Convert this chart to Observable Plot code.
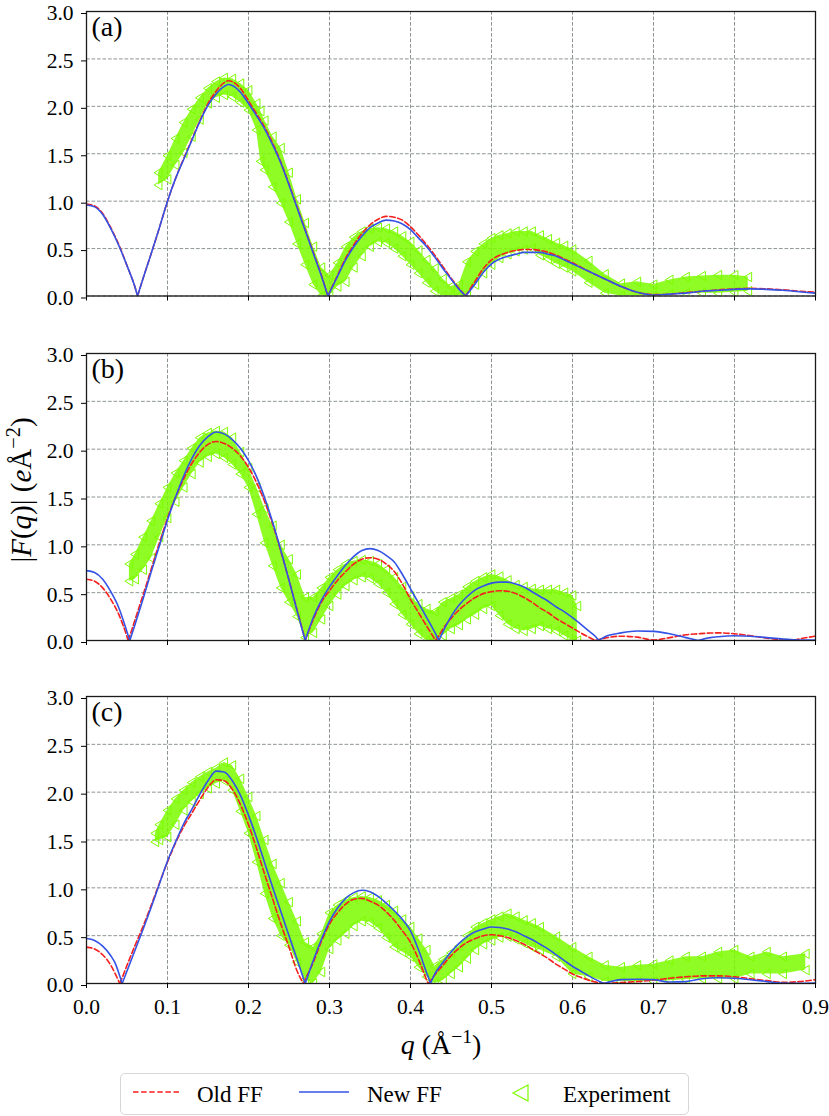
<!DOCTYPE html>
<html><head><meta charset="utf-8">
<script src="https://cdn.jsdelivr.net/npm/d3@7"></script>
<script src="https://cdn.jsdelivr.net/npm/@observablehq/plot@0.6"></script>
<style>
body{margin:0;background:#fff;font-family:"Liberation Serif",serif;color:#000;}
#wrap{position:relative;width:829px;height:1116px;overflow:hidden;}
.panel{position:absolute;left:0;}
.lbl{position:absolute;white-space:nowrap;line-height:1;}
.lbl sup{font-size:70%;vertical-align:0;position:relative;top:-0.55em;}
#legend{position:absolute;left:120px;top:1073px;width:569px;height:42px;box-sizing:border-box;border:1.5px solid #d6d6d6;border-radius:5px;background:#fff;}
#legend .it{position:absolute;font-size:23px;line-height:23px;top:9px;white-space:nowrap;}
#legend svg{position:absolute;}
</style></head><body><div id="wrap"></div>
<script>
// ---------- data ----------
const panelLabels = ["(a)", "(b)", "(c)"];
const legendLabels = ["Old FF", "New FF", "Experiment"];
const xTicks = [0, 0.1, 0.2, 0.3, 0.4, 0.5, 0.6, 0.7, 0.8, 0.9];
const yTicks = [0, 0.5, 1.0, 1.5, 2.0, 2.5, 3.0];

// Panel (a)
const qA = [0, 0.01, 0.02, 0.03, 0.04, 0.05, 0.06, 0.063, 0.07, 0.08,
  0.09, 0.10, 0.11, 0.12, 0.13, 0.14, 0.15, 0.16, 0.17, 0.175,
  0.18, 0.19, 0.20, 0.21, 0.22, 0.23, 0.24, 0.25, 0.26, 0.27,
  0.28, 0.29, 0.298, 0.31, 0.32, 0.33, 0.34, 0.35, 0.36, 0.37,
  0.38, 0.39, 0.40, 0.41, 0.42, 0.43, 0.44, 0.45, 0.46, 0.468,
  0.48, 0.49, 0.50, 0.51, 0.52, 0.53, 0.54, 0.55, 0.56, 0.57,
  0.58, 0.59, 0.60, 0.62, 0.64, 0.66, 0.68, 0.70, 0.72, 0.74,
  0.76, 0.78, 0.80, 0.82, 0.84, 0.86, 0.88, 0.90];
const oldA = [0.97, 0.95, 0.87, 0.72, 0.54, 0.32, 0.09, 0, 0.19, 0.45,
  0.72, 1.00, 1.24, 1.45, 1.65, 1.85, 2.03, 2.16, 2.25, 2.27,
  2.26, 2.19, 2.06, 1.92, 1.78, 1.61, 1.41, 1.18, 0.94, 0.70,
  0.46, 0.22, 0, 0.22, 0.40, 0.54, 0.66, 0.75, 0.81, 0.84,
  0.83, 0.80, 0.73, 0.64, 0.54, 0.43, 0.31, 0.19, 0.08, 0,
  0.16, 0.29, 0.38, 0.43, 0.46, 0.48, 0.49, 0.49, 0.48, 0.46,
  0.43, 0.39, 0.35, 0.26, 0.18, 0.10, 0.04, 0.015, 0.02, 0.035,
  0.05, 0.065, 0.075, 0.08, 0.075, 0.065, 0.05, 0.04];
const newA = [0.96, 0.94, 0.86, 0.71, 0.53, 0.32, 0.09, 0, 0.19, 0.45,
  0.72, 1.00, 1.24, 1.44, 1.64, 1.84, 2.01, 2.13, 2.21, 2.23,
  2.22, 2.15, 2.03, 1.90, 1.76, 1.59, 1.40, 1.17, 0.93, 0.69,
  0.45, 0.21, 0, 0.21, 0.38, 0.52, 0.63, 0.72, 0.77, 0.80,
  0.79, 0.76, 0.70, 0.61, 0.52, 0.41, 0.29, 0.18, 0.07, 0,
  0.13, 0.25, 0.34, 0.39, 0.42, 0.44, 0.46, 0.46, 0.46, 0.44,
  0.42, 0.38, 0.34, 0.26, 0.18, 0.10, 0.04, 0.01, 0.02, 0.03,
  0.05, 0.06, 0.07, 0.075, 0.07, 0.06, 0.045, 0.03];
const expQA = [0.089, 0.10, 0.11, 0.12, 0.13, 0.14, 0.15, 0.16, 0.17, 0.18,
  0.19, 0.20, 0.21, 0.215, 0.22, 0.23, 0.24, 0.25, 0.26, 0.27,
  0.28, 0.29, 0.30, 0.31, 0.32, 0.33, 0.34, 0.35, 0.36, 0.37,
  0.38, 0.39, 0.40, 0.41, 0.42, 0.43, 0.44, 0.45, 0.46, 0.47,
  0.48, 0.49, 0.50, 0.51, 0.52, 0.53, 0.54, 0.55, 0.56, 0.57,
  0.58, 0.59, 0.60, 0.62, 0.64, 0.66, 0.68, 0.70, 0.72, 0.74,
  0.76, 0.78, 0.80, 0.817];
const expLoA = [1.17, 1.23, 1.38, 1.51, 1.68, 1.86, 2.03, 2.09, 2.12, 2.10,
  2.04, 1.96, 1.75, 1.42, 1.33, 1.15, 0.98, 0.78, 0.55, 0.33,
  0.12, 0.0, 0.0, 0.10, 0.15, 0.30, 0.42, 0.52, 0.57, 0.56,
  0.50, 0.42, 0.33, 0.24, 0.14, 0.05, 0.0, 0.0, 0.0, 0.0,
  0.12, 0.24, 0.33, 0.40, 0.44, 0.47, 0.49, 0.50, 0.43, 0.39,
  0.34, 0.30, 0.26, 0.14, 0.03, 0.0, 0.0, 0.0, 0.02, 0.03,
  0.03, 0.03, 0.04, 0.05];
const expHiA = [1.30, 1.48, 1.66, 1.83, 1.97, 2.09, 2.19, 2.26, 2.30, 2.29,
  2.24, 2.17, 2.03, 1.95, 1.85, 1.68, 1.56, 1.30, 1.02, 0.77,
  0.52, 0.30, 0.22, 0.35, 0.52, 0.62, 0.68, 0.71, 0.72, 0.71,
  0.68, 0.63, 0.57, 0.48, 0.38, 0.29, 0.18, 0.10, 0.12, 0.36,
  0.47, 0.55, 0.61, 0.64, 0.66, 0.68, 0.68, 0.68, 0.64, 0.60,
  0.56, 0.53, 0.49, 0.37, 0.23, 0.13, 0.15, 0.12, 0.17, 0.20,
  0.21, 0.22, 0.22, 0.20];

// Panel (b)
const qB = [0, 0.01, 0.02, 0.03, 0.04, 0.05, 0.0515, 0.0535, 0.06, 0.07,
  0.08, 0.09, 0.10, 0.11, 0.12, 0.13, 0.14, 0.15, 0.16, 0.17,
  0.18, 0.19, 0.20, 0.21, 0.22, 0.23, 0.24, 0.25, 0.26, 0.27,
  0.28, 0.29, 0.30, 0.31, 0.32, 0.33, 0.34, 0.35, 0.36, 0.37,
  0.38, 0.39, 0.40, 0.41, 0.42, 0.431, 0.435, 0.44, 0.45, 0.46,
  0.47, 0.48, 0.49, 0.50, 0.51, 0.52, 0.53, 0.54, 0.55, 0.56,
  0.57, 0.58, 0.59, 0.60, 0.61, 0.62, 0.628, 0.6325, 0.64, 0.66,
  0.68, 0.70, 0.72, 0.74, 0.755, 0.77, 0.78, 0.80, 0.82, 0.84,
  0.86, 0.873, 0.88, 0.90];
const oldB = [0.64, 0.62, 0.55, 0.43, 0.27, 0.04, 0, 0.05, 0.22, 0.48,
  0.75, 1.02, 1.28, 1.50, 1.69, 1.85, 1.97, 2.05, 2.08, 2.06,
  2.01, 1.93, 1.81, 1.65, 1.45, 1.21, 0.93, 0.63, 0.32, 0,
  0.22, 0.40, 0.52, 0.63, 0.72, 0.80, 0.85, 0.865, 0.85, 0.80,
  0.72, 0.59, 0.43, 0.29, 0.15, 0, 0.05, 0.12, 0.23, 0.32,
  0.39, 0.45, 0.49, 0.51, 0.52, 0.515, 0.49, 0.45, 0.40, 0.34,
  0.29, 0.23, 0.18, 0.13, 0.08, 0.035, 0, 0.01, 0.025, 0.045,
  0.035, 0.005, 0.03, 0.06, 0.07, 0.078, 0.08, 0.07, 0.05, 0.025,
  0.005, 0, 0.015, 0.045];
const newB = [0.73, 0.71, 0.64, 0.51, 0.34, 0.09, 0.05, 0, 0.17, 0.44,
  0.72, 0.99, 1.26, 1.50, 1.72, 1.90, 2.04, 2.13, 2.18, 2.16,
  2.10, 2.01, 1.88, 1.71, 1.49, 1.23, 0.94, 0.63, 0.31, 0,
  0.24, 0.42, 0.56, 0.68, 0.79, 0.88, 0.94, 0.96, 0.94, 0.89,
  0.82, 0.69, 0.54, 0.39, 0.24, 0.07, 0, 0.09, 0.25, 0.37,
  0.46, 0.53, 0.57, 0.60, 0.61, 0.61, 0.59, 0.56, 0.51, 0.46,
  0.41, 0.35, 0.30, 0.24, 0.17, 0.10, 0.045, 0, 0.04, 0.08,
  0.10, 0.095, 0.07, 0.03, 0, 0.03, 0.04, 0.05, 0.045, 0.03,
  0.015, 0.008, 0.005, 0.005];
const expQB = [0.053, 0.06, 0.07, 0.08, 0.09, 0.10, 0.11, 0.12, 0.13, 0.14,
  0.15, 0.16, 0.17, 0.18, 0.19, 0.20, 0.21, 0.22, 0.23, 0.24,
  0.25, 0.26, 0.27, 0.28, 0.29, 0.30, 0.31, 0.32, 0.33, 0.34,
  0.35, 0.36, 0.37, 0.38, 0.39, 0.40, 0.41, 0.42, 0.43, 0.44,
  0.45, 0.46, 0.47, 0.48, 0.49, 0.50, 0.51, 0.52, 0.53, 0.54,
  0.55, 0.56, 0.57, 0.58, 0.59, 0.60, 0.606];
const expLoB = [0.62, 0.64, 0.74, 0.86, 1.08, 1.28, 1.45, 1.60, 1.74, 1.86,
  1.92, 1.95, 1.91, 1.84, 1.74, 1.60, 1.32, 1.02, 0.78, 0.55,
  0.40, 0.25, 0.03, 0.08, 0.22, 0.36, 0.48, 0.57, 0.63, 0.66,
  0.65, 0.59, 0.50, 0.38, 0.27, 0.17, 0.07, 0.0, 0.0, 0.05,
  0.12, 0.16, 0.22, 0.27, 0.33, 0.36, 0.26, 0.17, 0.12, 0.10,
  0.12, 0.15, 0.12, 0.10, 0.05, 0.0, 0.0];
const expHiB = [0.80, 0.90, 1.08, 1.25, 1.43, 1.60, 1.75, 1.88, 2.01, 2.12,
  2.17, 2.19, 2.18, 2.12, 1.97, 1.80, 1.60, 1.38, 1.20, 1.00,
  0.85, 0.69, 0.45, 0.45, 0.55, 0.66, 0.74, 0.80, 0.83, 0.84,
  0.83, 0.80, 0.74, 0.66, 0.56, 0.46, 0.38, 0.33, 0.30, 0.40,
  0.44, 0.48, 0.56, 0.62, 0.66, 0.69, 0.67, 0.63, 0.58, 0.56,
  0.54, 0.53, 0.53, 0.53, 0.50, 0.47, 0.36];

// Panel (c)
const qC = [0, 0.01, 0.02, 0.03, 0.035, 0.041, 0.044, 0.05, 0.06, 0.07,
  0.08, 0.09, 0.10, 0.11, 0.12, 0.13, 0.14, 0.15, 0.16, 0.17,
  0.18, 0.19, 0.20, 0.21, 0.22, 0.23, 0.24, 0.25, 0.26, 0.268,
  0.27, 0.28, 0.29, 0.30, 0.31, 0.32, 0.33, 0.34, 0.35, 0.36,
  0.37, 0.38, 0.39, 0.40, 0.41, 0.42, 0.4218, 0.4247, 0.43, 0.44,
  0.45, 0.46, 0.47, 0.48, 0.49, 0.50, 0.51, 0.52, 0.53, 0.54,
  0.55, 0.56, 0.57, 0.58, 0.59, 0.60, 0.61, 0.62, 0.63, 0.639,
  0.66, 0.68, 0.70, 0.72, 0.74, 0.76, 0.78, 0.80, 0.82, 0.84,
  0.86, 0.88, 0.90];
const oldC = [0.38, 0.36, 0.30, 0.19, 0.11, 0, 0.06, 0.19, 0.40, 0.60,
  0.82, 1.05, 1.27, 1.47, 1.64, 1.78, 1.92, 2.05, 2.13, 2.12,
  2.03, 1.87, 1.66, 1.41, 1.14, 0.88, 0.62, 0.38, 0.13, 0,
  0.04, 0.22, 0.44, 0.62, 0.74, 0.83, 0.88, 0.89, 0.86, 0.82,
  0.75, 0.66, 0.55, 0.43, 0.25, 0.035, 0, 0.03, 0.09, 0.19,
  0.29, 0.37, 0.43, 0.47, 0.50, 0.51, 0.50, 0.48, 0.45, 0.41,
  0.36, 0.31, 0.26, 0.20, 0.15, 0.10, 0.065, 0.035, 0.012, 0,
  0.01, 0.02, 0.035, 0.055, 0.07, 0.08, 0.08, 0.07, 0.05, 0.03,
  0.012, 0.02, 0.04];
const newC = [0.47, 0.45, 0.39, 0.29, 0.22, 0.08, 0, 0.13, 0.35, 0.57,
  0.80, 1.04, 1.28, 1.48, 1.67, 1.82, 1.98, 2.12, 2.22, 2.21,
  2.12, 1.97, 1.76, 1.52, 1.26, 1.00, 0.75, 0.50, 0.25, 0.05,
  0, 0.24, 0.46, 0.65, 0.79, 0.89, 0.95, 0.975, 0.96, 0.91,
  0.84, 0.76, 0.67, 0.55, 0.35, 0.11, 0.07, 0, 0.10, 0.22,
  0.33, 0.42, 0.49, 0.54, 0.57, 0.59, 0.585, 0.57, 0.54, 0.50,
  0.46, 0.41, 0.36, 0.30, 0.24, 0.18, 0.13, 0.08, 0.035, 0,
  0.04, 0.045, 0.04, 0.015, 0.02, 0.05, 0.06, 0.055, 0.04, 0.02,
  0.005, 0.003, 0.005];
const expQC = [0.085, 0.09, 0.10, 0.11, 0.12, 0.13, 0.14, 0.15, 0.16, 0.17,
  0.18, 0.19, 0.20, 0.21, 0.22, 0.23, 0.24, 0.25, 0.26, 0.27,
  0.28, 0.29, 0.30, 0.31, 0.32, 0.33, 0.34, 0.35, 0.36, 0.37,
  0.38, 0.39, 0.40, 0.41, 0.42, 0.43, 0.44, 0.45, 0.46, 0.47,
  0.48, 0.49, 0.50, 0.51, 0.52, 0.53, 0.54, 0.55, 0.56, 0.58,
  0.60, 0.62, 0.64, 0.66, 0.68, 0.70, 0.72, 0.74, 0.76, 0.78,
  0.80, 0.82, 0.84, 0.86, 0.888];
const expLoC = [1.48, 1.50, 1.53, 1.66, 1.81, 1.90, 1.98, 2.04, 2.09, 2.12,
  2.02, 1.80, 1.57, 1.27, 0.94, 0.68, 0.50, 0.40, 0.22, 0.04,
  0.0, 0.12, 0.36, 0.45, 0.52, 0.60, 0.65, 0.64, 0.58, 0.48,
  0.38, 0.33, 0.28, 0.17, 0.07, 0.0, 0.03, 0.10, 0.17, 0.26,
  0.35, 0.41, 0.45, 0.48, 0.49, 0.46, 0.42, 0.38, 0.35, 0.28,
  0.10, 0.07, 0.02, 0.02, 0.02, 0.02, 0.03, 0.04, 0.05, 0.05,
  0.05, 0.10, 0.10, 0.10, 0.14];
const expHiC = [1.57, 1.66, 1.81, 1.93, 2.02, 2.10, 2.16, 2.21, 2.25, 2.31,
  2.28, 2.14, 1.95, 1.75, 1.50, 1.25, 1.05, 0.85, 0.65, 0.43,
  0.38, 0.52, 0.74, 0.82, 0.87, 0.90, 0.91, 0.90, 0.87, 0.82,
  0.76, 0.67, 0.59, 0.47, 0.35, 0.18, 0.25, 0.32, 0.39, 0.50,
  0.59, 0.63, 0.67, 0.70, 0.73, 0.70, 0.66, 0.63, 0.59, 0.49,
  0.38, 0.28, 0.19, 0.17, 0.19, 0.20, 0.24, 0.28, 0.28, 0.33,
  0.35, 0.28, 0.33, 0.28, 0.31];

// ---------- styles / layout ----------
const RED = "#f5201e", BLUE = "#3453e6", GREEN = "#7cfc00", GRID = "#8e9494";
const frameTops = [10.5, 352.7, 696];
const innerHs = [284.5, 287, 287];
const leftTri = {
  draw(ctx, size) {
    const r = Math.sqrt(size / Math.PI);
    ctx.moveTo(-r, 0);
    ctx.lineTo(r * 0.75, -r * 1.05);
    ctx.lineTo(r * 0.75, r * 1.05);
    ctx.closePath();
  }
};

function segments(q, v) {
  const out = []; let s = 0;
  q.forEach((x, i) => {
    out.push({q: x, v: v[i], s});
    if (v[i] === 0 && i > 0 && i < q.length - 1) { s++; out.push({q: x, v: 0, s}); }
  });
  return out;
}

function makePanel(label, q, oldV, newV, eq, elo, ehi, showX, innerH) {
  const exp = eq.map((x, i) => ({q: x, lo: elo[i], hi: ehi[i]}));
  const mt = 16, mb = 45;
  return Plot.plot({
    width: 829, height: mt + innerH + mb,
    marginTop: mt, marginBottom: mb, marginLeft: 86, marginRight: 14,
    style: {background: "transparent", fontFamily: "Liberation Serif, serif", fontSize: "21.5px", color: "#000", overflow: "visible"},
    x: {domain: [0, 0.9]},
    y: {domain: [0, 3]},
    marks: [
      Plot.gridX(xTicks, {stroke: GRID, strokeOpacity: 1, strokeWidth: 1, strokeDasharray: "3.7,1.8"}),
      Plot.gridY(yTicks, {stroke: GRID, strokeOpacity: 1, strokeWidth: 1, strokeDasharray: "3.7,1.8"}),
      Plot.areaY(exp, {x: "q", y1: "lo", y2: "hi", fill: GREEN, fillOpacity: 0.85, clip: true}),
      Plot.dot(exp, {x: "q", y: "lo", symbol: leftTri, r: 4.5, stroke: GREEN, strokeWidth: 1, fill: "none", clip: true}),
      Plot.dot(exp, {x: "q", y: "hi", symbol: leftTri, r: 4.5, stroke: GREEN, strokeWidth: 1, fill: "none", clip: true}),
      Plot.line(segments(q, oldV), {x: "q", y: "v", z: "s", stroke: RED, strokeWidth: 1.6, strokeDasharray: "5.5,2.6", curve: "monotone-x", clip: true}),
      Plot.line(segments(q, newV), {x: "q", y: "v", z: "s", stroke: BLUE, strokeWidth: 1.6, curve: "monotone-x", clip: true}),
      Plot.frame({stroke: "#1a1a1a", strokeWidth: 1.3}),
      Plot.axisX(xTicks, {tickSize: 5, tickPadding: 10, label: null, tickFormat: showX ? d3.format(".1f") : () => ""}),
      Plot.axisY(yTicks, {tickSize: 5, tickPadding: 8, label: null, dy: 2, tickFormat: d3.format(".1f")}),
      Plot.text([label], {frameAnchor: "top-left", dx: 5, dy: 5, fontSize: 28, lineAnchor: "top", textAnchor: "start"})
    ]
  });
}

const wrap = document.getElementById("wrap");
const panels = [
  makePanel(panelLabels[0], qA, oldA, newA, expQA, expLoA, expHiA, false, innerHs[0]),
  makePanel(panelLabels[1], qB, oldB, newB, expQB, expLoB, expHiB, false, innerHs[1]),
  makePanel(panelLabels[2], qC, oldC, newC, expQC, expLoC, expHiC, true, innerHs[2])
];
panels.forEach((p, i) => {
  const d = document.createElement("div");
  d.className = "panel";
  d.style.top = (frameTops[i] - 16) + "px";
  d.appendChild(p);
  wrap.appendChild(d);
});

// y label
const yl = document.createElement("div");
yl.className = "lbl";
yl.style.cssText = "left:21px;top:490px;font-size:29px;transform:translate(-50%,-50%) rotate(-90deg);";
yl.innerHTML = "|<i>F</i>(<i>q</i>)| (<i>e</i>Å<sup>−2</sup>)";
wrap.appendChild(yl);

// x label
const xl = document.createElement("div");
xl.className = "lbl";
xl.style.cssText = "left:441px;top:1031px;font-size:28px;transform:translateX(-50%);";
xl.innerHTML = "<i>q</i> (Å<sup>−1</sup>)";
wrap.appendChild(xl);

// legend
const lg = document.createElement("div");
lg.id = "legend";
lg.innerHTML =
  `<svg style="left:11px;top:10px" width="50" height="16"><line x1="1" y1="8" x2="49" y2="8" stroke="${RED}" stroke-width="1.6" stroke-dasharray="5.5,2.6"/></svg>` +
  `<div class="it" style="left:76px">${legendLabels[0]}</div>` +
  `<svg style="left:178px;top:10px" width="50" height="16"><line x1="0" y1="8" x2="50" y2="8" stroke="${BLUE}" stroke-width="1.6"/></svg>` +
  `<div class="it" style="left:246px">${legendLabels[1]}</div>` +
  `<svg style="left:388px;top:7px" width="24" height="24"><path d="M4,12 L19,4 L19,20 Z" fill="none" stroke="${GREEN}" stroke-width="1.2"/></svg>` +
  `<div class="it" style="left:442px">${legendLabels[2]}</div>`;
wrap.appendChild(lg);
</script>
</body></html>
